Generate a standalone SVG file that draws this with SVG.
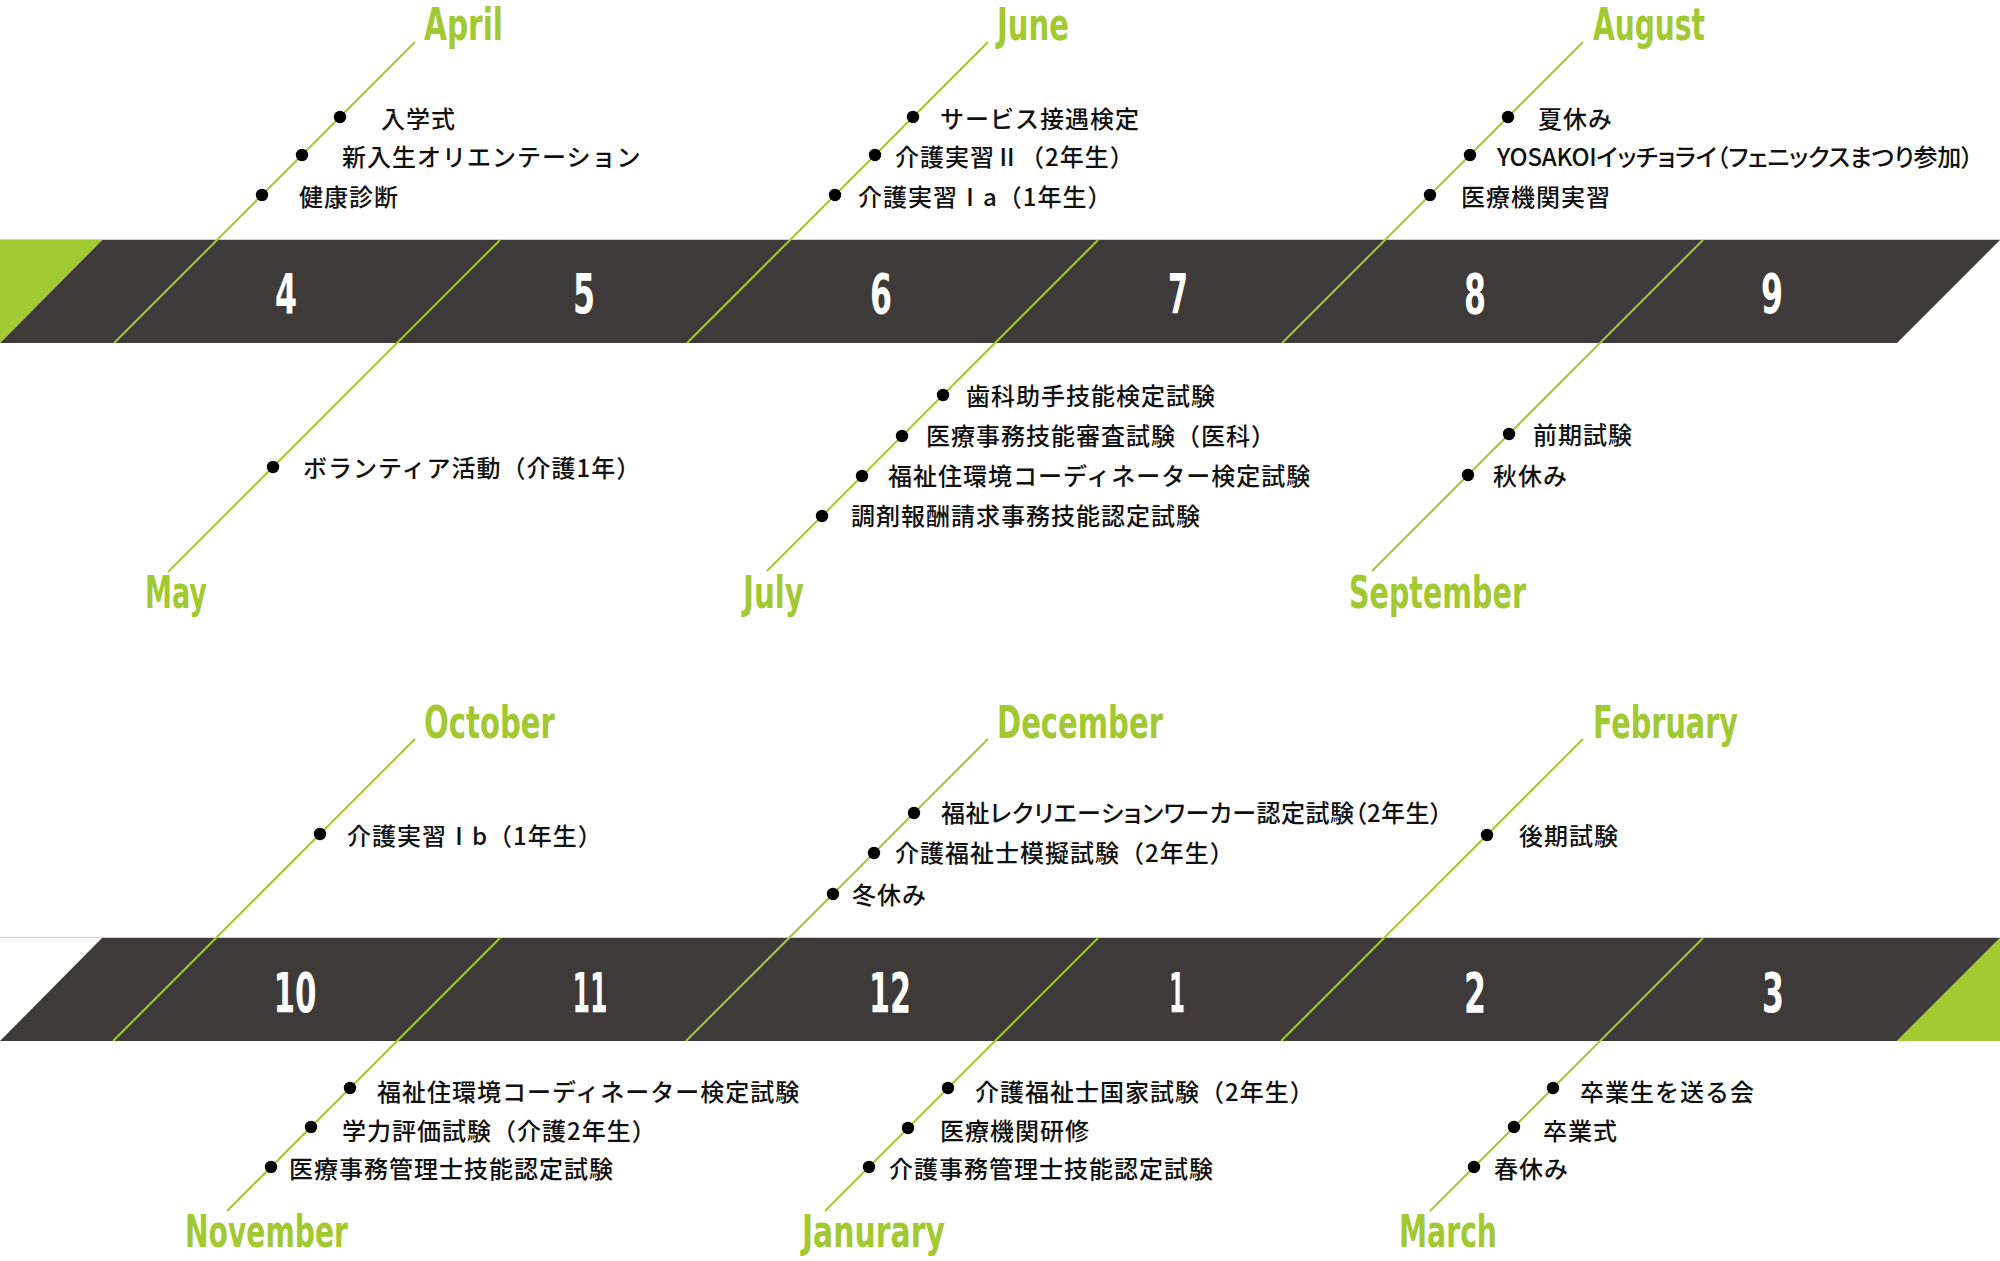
<svg xmlns="http://www.w3.org/2000/svg" width="2000" height="1261" viewBox="0 0 2000 1261">
<defs>
<style>
.band{fill:#3e3a39}
.accent{fill:#a2c832}
.rule{stroke:#d0d0d0;stroke-width:1}
.num{font-family:"Liberation Sans Narrow","DejaVu Sans Condensed",sans-serif;font-weight:bold;font-size:56px;fill:#fff;text-anchor:middle}
.mon{font-family:"Liberation Sans Narrow","DejaVu Sans Condensed",sans-serif;font-weight:bold;font-size:44px;fill:#a2c832}
.ev{font-family:"Noto Sans CJK JP",sans-serif;font-size:24px;font-weight:500;letter-spacing:1px;fill:#111;dominant-baseline:central}
.tight{letter-spacing:0;font-feature-settings:"palt"}
.dot{fill:#000}
.ln{stroke:#a2c832;stroke-width:2;fill:none}
</style>
</defs>
<rect width="2000" height="1261" fill="#fff"/>

<g id="band-top">
<line class="rule" x1="0" y1="239.5" x2="2000" y2="239.5"/>
<polygon class="band" points="102,240 2000,240 1897,343 0,343"/>
<polygon class="accent" points="0,240 102,240 0,343"/>
<text class="num" x="286" y="313" textLength="22" lengthAdjust="spacingAndGlyphs">4</text>
<text class="num" x="584" y="313" textLength="22" lengthAdjust="spacingAndGlyphs">5</text>
<text class="num" x="881" y="313" textLength="22" lengthAdjust="spacingAndGlyphs">6</text>
<text class="num" x="1178" y="313" textLength="20" lengthAdjust="spacingAndGlyphs">7</text>
<text class="num" x="1475" y="313" textLength="22" lengthAdjust="spacingAndGlyphs">8</text>
<text class="num" x="1772" y="313" textLength="22" lengthAdjust="spacingAndGlyphs">9</text>
</g>

<g id="band-bottom">
<line class="rule" x1="0" y1="937.5" x2="2000" y2="937.5"/>
<polygon class="band" points="102,938 2000,938 1897,1041 0,1041"/>
<polygon class="accent" points="2000,938 2000,1041 1897,1041"/>
<text class="num" x="295" y="1012" textLength="43" lengthAdjust="spacingAndGlyphs">10</text>
<text class="num" x="590" y="1012" textLength="35" lengthAdjust="spacingAndGlyphs">11</text>
<text class="num" x="890" y="1012" textLength="42" lengthAdjust="spacingAndGlyphs">12</text>
<text class="num" x="1177" y="1012" textLength="16" lengthAdjust="spacingAndGlyphs">1</text>
<text class="num" x="1475" y="1012" textLength="22" lengthAdjust="spacingAndGlyphs">2</text>
<text class="num" x="1773" y="1012" textLength="22" lengthAdjust="spacingAndGlyphs">3</text>
</g>

<g id="connectors">
<line class="ln" x1="415" y1="42" x2="114" y2="343"/>
<line class="ln" x1="500" y1="240" x2="168" y2="572"/>
<line class="ln" x1="988" y1="42" x2="687" y2="343"/>
<line class="ln" x1="1098" y1="240" x2="767" y2="571"/>
<line class="ln" x1="1583" y1="42" x2="1282" y2="343"/>
<line class="ln" x1="1703" y1="240" x2="1372" y2="571"/>
<line class="ln" x1="415" y1="739" x2="113" y2="1041"/>
<line class="ln" x1="500" y1="938" x2="227" y2="1211"/>
<line class="ln" x1="988" y1="739" x2="686" y2="1041"/>
<line class="ln" x1="1098" y1="938" x2="825" y2="1211"/>
<line class="ln" x1="1583" y1="739" x2="1281" y2="1041"/>
<line class="ln" x1="1703" y1="938" x2="1430" y2="1211"/>
</g>

<g id="april">
<text class="mon" x="424" y="40" textLength="79" lengthAdjust="spacingAndGlyphs">April</text>
<circle class="dot" cx="340" cy="117" r="6.2"/>
<circle class="dot" cx="302" cy="155" r="6.2"/>
<circle class="dot" cx="262" cy="195" r="6.2"/>
<text class="ev" x="381" y="117">入学式</text>
<text class="ev" x="342" y="155">新入生オリエンテーション</text>
<text class="ev" x="299" y="195">健康診断</text>
</g>

<g id="may">
<text class="mon" x="145" y="608" textLength="62" lengthAdjust="spacingAndGlyphs">May</text>
<circle class="dot" cx="273" cy="467" r="6.2"/>
<text class="ev" x="303" y="466">ボランティア活動（介護1年）</text>
</g>

<g id="june">
<text class="mon" x="997" y="40" textLength="72" lengthAdjust="spacingAndGlyphs">June</text>
<circle class="dot" cx="913" cy="117" r="6.2"/>
<circle class="dot" cx="875" cy="155" r="6.2"/>
<circle class="dot" cx="835" cy="195" r="6.2"/>
<text class="ev" x="940" y="117">サービス接遇検定</text>
<text class="ev" x="895" y="155">介護実習Ⅱ（2年生）</text>
<text class="ev" x="858" y="195">介護実習Ⅰa（1年生）</text>
</g>

<g id="july">
<text class="mon" x="743" y="608" textLength="61" lengthAdjust="spacingAndGlyphs">July</text>
<circle class="dot" cx="943" cy="395" r="6.2"/>
<circle class="dot" cx="902" cy="436" r="6.2"/>
<circle class="dot" cx="862" cy="476" r="6.2"/>
<circle class="dot" cx="822" cy="516" r="6.2"/>
<text class="ev" x="966" y="394">歯科助手技能検定試験</text>
<text class="ev" x="926" y="434">医療事務技能審査試験（医科）</text>
<text class="ev" x="888" y="474">福祉住環境コーディネーター検定試験</text>
<text class="ev" x="851" y="514">調剤報酬請求事務技能認定試験</text>
</g>

<g id="august">
<text class="mon" x="1593" y="40" textLength="112" lengthAdjust="spacingAndGlyphs">August</text>
<circle class="dot" cx="1508" cy="117" r="6.2"/>
<circle class="dot" cx="1470" cy="155" r="6.2"/>
<circle class="dot" cx="1430" cy="195" r="6.2"/>
<text class="ev" x="1538" y="117">夏休み</text>
<text class="ev tight" x="1497" y="155" textLength="476" lengthAdjust="spacing">YOSAKOIイッチョライ（フェニックスまつり参加）</text>
<text class="ev" x="1461" y="195">医療機関実習</text>
</g>

<g id="september">
<text class="mon" x="1349" y="608" textLength="177" lengthAdjust="spacingAndGlyphs">September</text>
<circle class="dot" cx="1509" cy="434" r="6.2"/>
<circle class="dot" cx="1468" cy="475" r="6.2"/>
<text class="ev" x="1533" y="433">前期試験</text>
<text class="ev" x="1493" y="474">秋休み</text>
</g>

<g id="october">
<text class="mon" x="424" y="738" textLength="131" lengthAdjust="spacingAndGlyphs">October</text>
<circle class="dot" cx="320" cy="834" r="6.2"/>
<text class="ev" x="347" y="834">介護実習Ⅰb（1年生）</text>
</g>

<g id="november">
<text class="mon" x="185" y="1247" textLength="163" lengthAdjust="spacingAndGlyphs">November</text>
<circle class="dot" cx="350" cy="1088" r="6.2"/>
<circle class="dot" cx="311" cy="1127" r="6.2"/>
<circle class="dot" cx="271" cy="1167" r="6.2"/>
<text class="ev" x="377" y="1090">福祉住環境コーディネーター検定試験</text>
<text class="ev" x="342" y="1129">学力評価試験（介護2年生）</text>
<text class="ev" x="289" y="1167">医療事務管理士技能認定試験</text>
</g>

<g id="december">
<text class="mon" x="997" y="738" textLength="166" lengthAdjust="spacingAndGlyphs">December</text>
<circle class="dot" cx="914" cy="813" r="6.2"/>
<circle class="dot" cx="874" cy="853" r="6.2"/>
<circle class="dot" cx="833" cy="894" r="6.2"/>
<text class="ev tight" x="941" y="811" textLength="501" lengthAdjust="spacing">福祉レクリエーションワーカー認定試験（2年生）</text>
<text class="ev" x="895" y="851">介護福祉士模擬試験（2年生）</text>
<text class="ev" x="852" y="893">冬休み</text>
</g>

<g id="january">
<text class="mon" x="802" y="1247" textLength="143" lengthAdjust="spacingAndGlyphs">Janurary</text>
<circle class="dot" cx="948" cy="1088" r="6.2"/>
<circle class="dot" cx="908" cy="1128" r="6.2"/>
<circle class="dot" cx="869" cy="1167" r="6.2"/>
<text class="ev" x="975" y="1090">介護福祉士国家試験（2年生）</text>
<text class="ev" x="940" y="1129">医療機関研修</text>
<text class="ev" x="889" y="1167">介護事務管理士技能認定試験</text>
</g>

<g id="february">
<text class="mon" x="1593" y="738" textLength="145" lengthAdjust="spacingAndGlyphs">February</text>
<circle class="dot" cx="1487" cy="835" r="6.2"/>
<text class="ev" x="1519" y="834">後期試験</text>
</g>

<g id="march">
<text class="mon" x="1399" y="1247" textLength="98" lengthAdjust="spacingAndGlyphs">March</text>
<circle class="dot" cx="1553" cy="1088" r="6.2"/>
<circle class="dot" cx="1514" cy="1127" r="6.2"/>
<circle class="dot" cx="1474" cy="1167" r="6.2"/>
<text class="ev" x="1580" y="1090">卒業生を送る会</text>
<text class="ev" x="1543" y="1129">卒業式</text>
<text class="ev" x="1494" y="1167">春休み</text>
</g>
</svg>
